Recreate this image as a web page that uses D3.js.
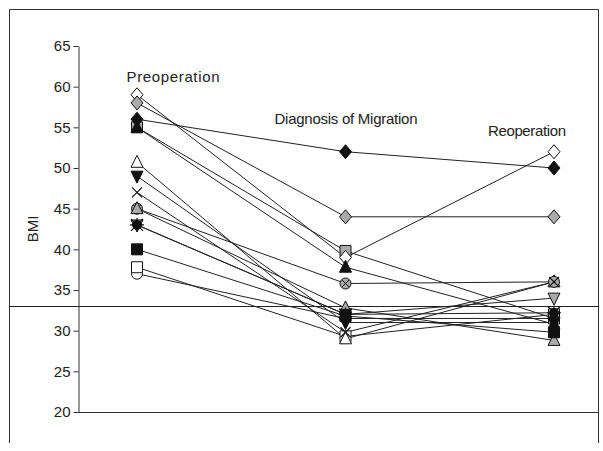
<!DOCTYPE html>
<html>
<head>
<meta charset="utf-8">
<script src="https://cdn.jsdelivr.net/npm/d3@7"></script>
<style>
  body { margin: 0; background: #fff; }
  svg text { font-family: "Liberation Sans", Arial, sans-serif; fill: #222; }
</style>
</head>
<body>
<svg id="chart" width="603" height="451"></svg>
<script>
// data (BMI per patient at each stage)
var stages = ["Preoperation", "Diagnosis of Migration", "Reoperation"];
var preop     = [37, 37.8, 50.7, 55, 59, 58, 56, 55, 49, 45, 47, 45, 43, 40, 43];
var diagnosis = [31.5, 29.3, 29, 39.8, 39, 44, 52, 37.8, 31, 35.8, 29.8, 32.8, 32, 31.8, 32];
var reop      = [31.5, 32, 36, 31.5, 52, 44, 50, 30.8, 31, 36, 36, 28.8, 34, 29.8, 32.2];
var yTicks = [20, 25, 30, 35, 40, 45, 50, 55, 60, 65];
var cutoff = [33];

// marker look per patient (shape, fill)
var markers = [
    ["circle", "#fff"], ["square", "#fff"], ["triangle", "#fff"],
    ["square", "#aaa"], ["diamond", "#fff"], ["diamond", "#aaa"],
    ["diamond", "#111"], ["triangle", "#111"], ["triangleDown", "#111"],
    ["xcircle", "#aaa"], ["x", "none"], ["triangle", "#aaa"],
    ["triangleDown", "#aaa"], ["square", "#111"], ["star", "#111"]
];

var svg = d3.select("#chart");

var x = d3.scalePoint().domain(stages).range([137, 554]);
var y = d3.scaleLinear().domain([20, 65]).range([412, 46]);

// outer frame
svg.append("path")
    .attr("d", "M9.5,443 V9.5 H598.5 V443")
    .attr("fill", "none")
    .attr("stroke", "#333")
    .attr("stroke-width", 1);

// y axis
var yAxis = d3.axisLeft(y).tickValues(yTicks).tickSize(5).tickSizeOuter(0);
var gy = svg.append("g")
    .attr("transform", "translate(78.5,0)")
    .call(yAxis);
gy.select(".domain").attr("stroke", "#333");
gy.selectAll(".tick line").attr("stroke", "#333");
gy.selectAll(".tick text")
    .attr("font-size", 15)
    .attr("x", -8)
    .style("font-family", "'Liberation Sans', sans-serif")
    .attr("fill", "#222");

// x axis baseline
svg.append("line")
    .attr("x1", 78).attr("x2", 598)
    .attr("y1", y(20) + 0.5).attr("y2", y(20) + 0.5)
    .attr("stroke", "#333");

// reference line
svg.selectAll(".cutoff")
    .data(cutoff)
    .enter().append("line")
    .attr("class", "cutoff")
    .attr("x1", 10).attr("x2", 598)
    .attr("y1", function(d) { return Math.round(y(d)) + 0.5; })
    .attr("y2", function(d) { return Math.round(y(d)) + 0.5; })
    .attr("stroke", "#222");

// BMI label
svg.append("text")
    .attr("transform", "translate(38," + y(42.5) + ") rotate(-90)")
    .attr("text-anchor", "middle")
    .attr("font-size", 15)
    .text("BMI");

// stage labels
var labelPos = [[173, 82], [346, 124], [527, 136]];
svg.selectAll(".stage")
    .data(stages)
    .enter().append("text")
    .attr("class", "stage")
    .attr("x", function(d, i) { return labelPos[i][0]; })
    .attr("y", function(d, i) { return labelPos[i][1]; })
    .attr("text-anchor", "middle")
    .attr("font-size", 15)
    .attr("textLength", function(d, i) { return [93, 143, 78][i]; })
    .text(function(d) { return d; });

var patients = preop.map(function(v, i) {
    return [v, diagnosis[i], reop[i]];
});

var line = d3.line()
    .x(function(d, i) { return x(stages[i]); })
    .y(function(d) { return y(d); });

svg.selectAll(".patient")
    .data(patients)
    .enter().append("path")
    .attr("class", "patient")
    .attr("d", line)
    .attr("fill", "none")
    .attr("stroke", "#222")
    .attr("stroke-width", 1);

function markerPath(shape) {
    var circle = d3.arc()({innerRadius: 0, outerRadius: 5.5, startAngle: 0, endAngle: 2 * Math.PI});
    switch (shape) {
        case "diamond": return "M0,-7 L6,0 L0,7 L-6,0 Z";
        case "square": return "M-5.5,-5.5 H5.5 V5.5 H-5.5 Z";
        case "triangle": return "M0,-7 L6,5 L-6,5 Z";
        case "triangleDown": return "M0,7 L6,-5 L-6,-5 Z";
        case "circle": return circle;
        case "xcircle": return circle;
        case "star": return d3.arc()({innerRadius: 0, outerRadius: 4.5, startAngle: 0, endAngle: 2 * Math.PI});
        default: return "";
    }
}

patients.forEach(function(p, i) {
    var shape = markers[i][0], fill = markers[i][1];
    var g = svg.selectAll(".m" + i)
        .data(p)
        .enter().append("g")
        .attr("transform", function(d, j) { return "translate(" + x(stages[j]) + "," + y(d) + ")"; });
    if (shape === "x") {
        g.append("path").attr("d", "M-5,-5 L5,5 M-5,5 L5,-5")
            .attr("stroke", "#111").attr("stroke-width", 1.2).attr("fill", "none");
        return;
    }
    g.append("path")
        .attr("d", markerPath(shape))
        .attr("fill", fill)
        .attr("stroke", "#111")
        .attr("stroke-width", 1);
    if (shape === "xcircle") {
        g.append("path").attr("d", "M-3.5,-3.5 L3.5,3.5 M-3.5,3.5 L3.5,-3.5")
            .attr("stroke", "#111").attr("stroke-width", 1);
    }
    if (shape === "star") {
        g.append("path").attr("d", "M-6,-6 L6,6 M-6,6 L6,-6 M0,-7 V7 M-7,0 H7")
            .attr("stroke", "#111").attr("stroke-width", 1.2);
    }
});
</script>
</body>
</html>
